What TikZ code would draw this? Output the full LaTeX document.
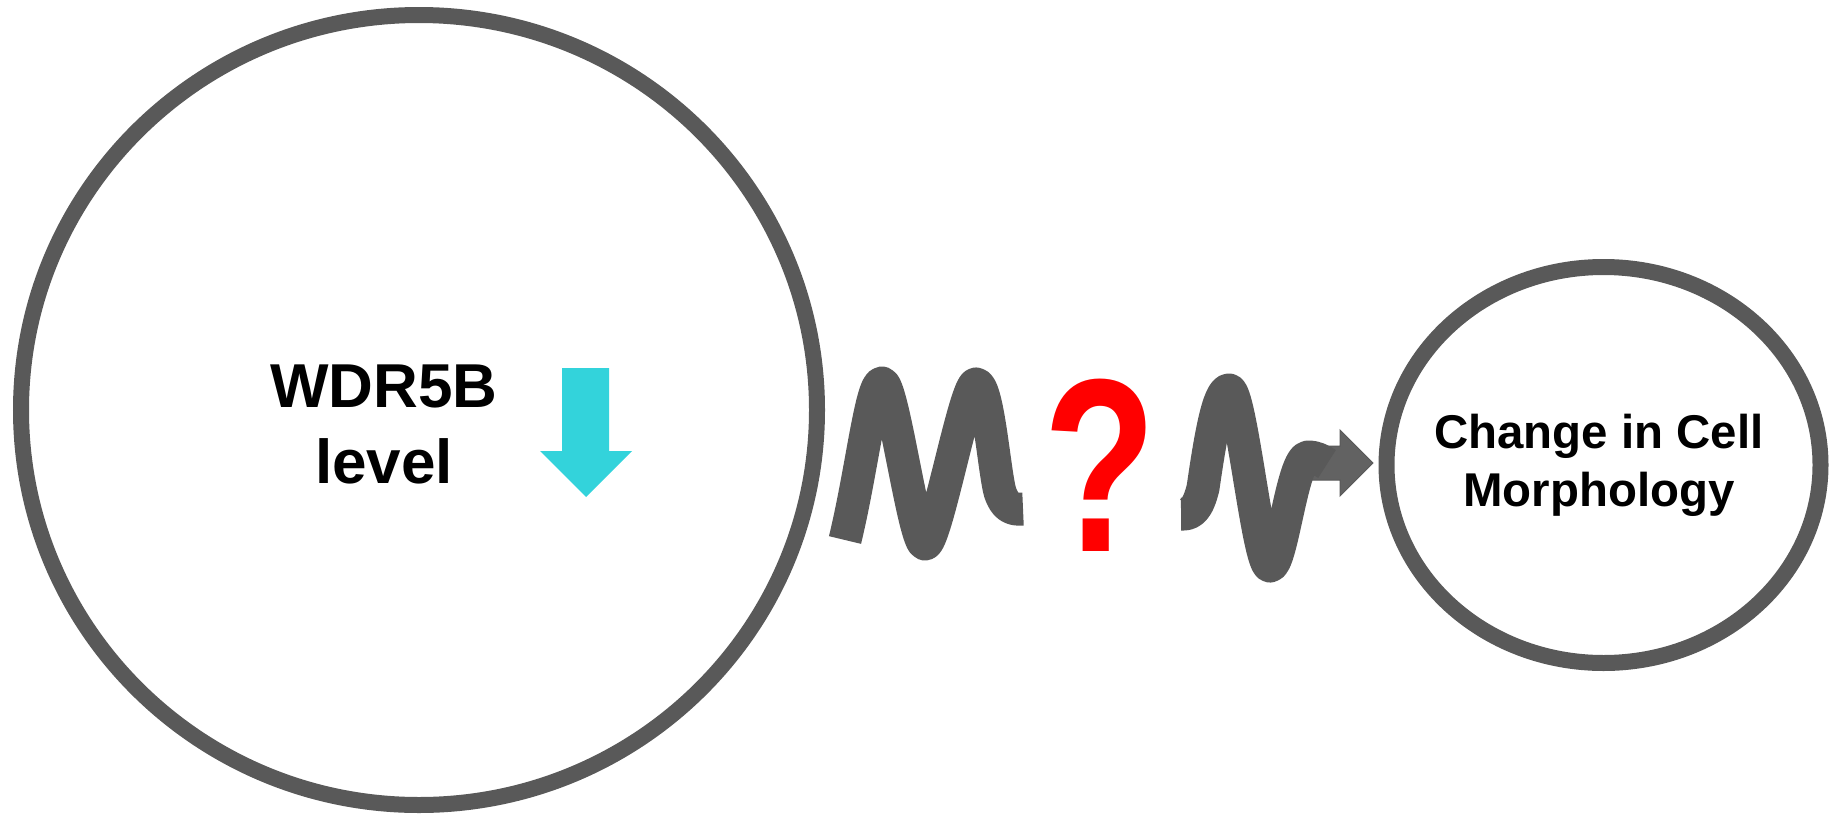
\documentclass[tikz,border=0pt]{standalone}
\usepackage{graphicx}
\usepackage{fontspec}
\setmainfont{Liberation Sans}
\usetikzlibrary{shapes.geometric}
\definecolor{rim}{RGB}{89,89,89}
\definecolor{tip}{RGB}{98,98,98}
\definecolor{down}{RGB}{51,211,219}
\begin{document}
\begin{tikzpicture}[x=1pt,y=-1pt,
	cell/.style={ellipse,draw=rim,line width=16pt,inner sep=0pt},
	wave/.style={draw=rim,line width=33pt,line cap=butt,line join=round},
	label/.style={align=center,anchor=base,inner sep=0pt,font=\bfseries}]
\useasboundingbox (0,0) rectangle (1839,814);
\node[cell,minimum width=796pt,minimum height=790pt] (wdr) at (419,410) {};
\node[cell,minimum width=434pt,minimum height=396pt] (morph) at (1603.5,465) {};
\node[label,font=\fontsize{62}{76}\selectfont\bfseries] (level) at (384,483) {WDR5B\\level};
\node[label,font=\fontsize{47.4}{58}\selectfont\bfseries] (change) at (1599,506) {Change in Cell\\Morphology};
\fill[down] (562,368) -- (609,368) -- (609,451) -- (632,451) -- (586,497) -- (540,451) -- (562,451) -- cycle;
\filldraw[fill=tip,draw=rim,line width=1pt] (1300,446) -- (1340,446) -- (1340,430) -- (1373,463) -- (1340,496) -- (1340,480) -- (1300,480) -- cycle;
\draw[wave] (845,540) .. controls (862,470) and (871,383) .. (882,383)
	.. controls (893,383) and (914,544) .. (925,544)
	.. controls (936,544) and (965,384) .. (976,384)
	.. controls (988,384) and (994,470) .. (1000,492)
	.. controls (1005,507) and (1012,510) .. (1023,509);
\draw[wave] (1181,514) .. controls (1192,515) and (1198,508) .. (1203,488)
	.. controls (1210,440) and (1218,390) .. (1229,390)
	.. controls (1241,390) and (1258,566) .. (1270,566)
	.. controls (1282,566) and (1292,458) .. (1308,457)
	.. controls (1316,457) and (1321,460) .. (1327,464);
\node[text=red,inner sep=0pt,anchor=base,font=\fontsize{247}{247}\selectfont\bfseries] (ask) at (1100,551) {\scalebox{0.75}[1]{?}};
\end{tikzpicture}
\end{document}
